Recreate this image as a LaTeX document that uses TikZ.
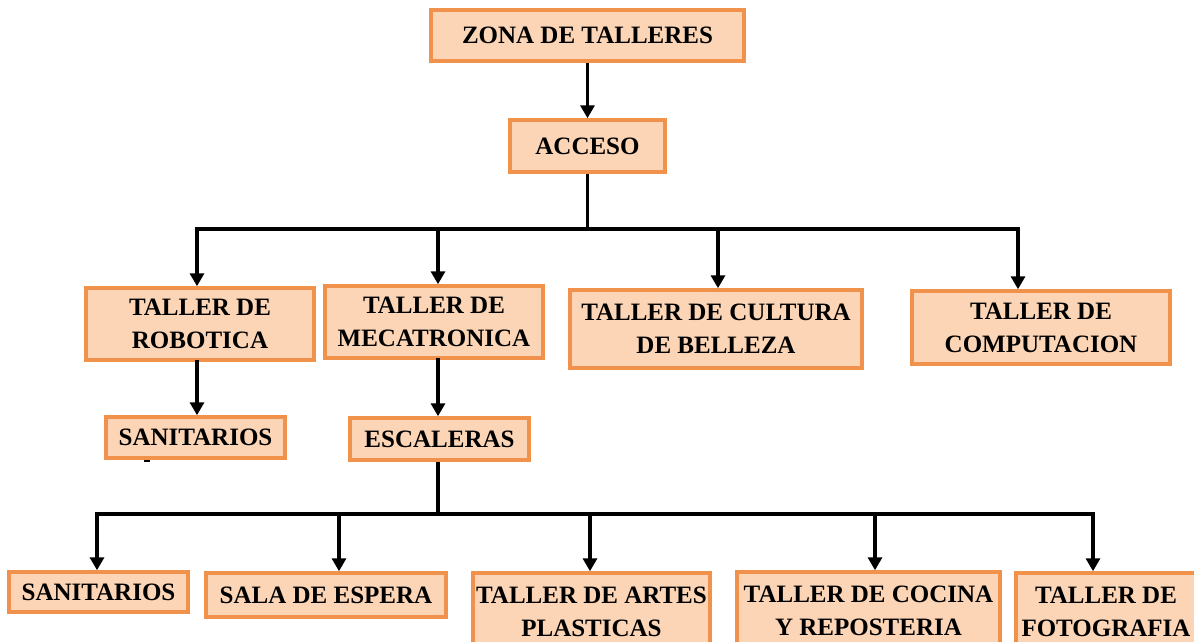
\documentclass[tikz,border=0pt]{standalone}
\usepackage{fontspec}
\setmainfont{Liberation Serif}
\usetikzlibrary{arrows.meta}
\definecolor{boxfill}{HTML}{FBD5B5}
\definecolor{boxline}{HTML}{F0924C}
\tikzset{
  box/.style={draw=boxline, line width=3.5pt, fill=boxfill, inner sep=0pt, align=center,
    font=\fontsize{25}{33}\selectfont\bfseries},
  conn/.style={line width=3.5pt, draw=black},
  arr/.style={conn, -{Triangle[width=14pt,length=13pt]}},
}
\begin{document}
\begin{tikzpicture}[x=1pt,y=-1pt]
\useasboundingbox (0,0) rectangle (1194,642);
\node[box, minimum width=313pt, minimum height=51pt] (zona) at (587.5,35.5) {ZONA DE TALLERES};
\node[box, minimum width=155pt, minimum height=52pt] (acceso) at (587.5,146) {ACCESO};
\node[box, minimum width=228pt, minimum height=72pt] (robotica) at (200,324) {TALLER DE\\ROBOTICA};
\node[box, minimum width=218pt, minimum height=72pt] (meca) at (434,322) {TALLER DE\\MECATRONICA};
\node[box, minimum width=292pt, minimum height=78pt] (cultura) at (716,329) {TALLER DE CULTURA\\DE BELLEZA};
\node[box, minimum width=258pt, minimum height=73pt] (compu) at (1041,327.5) {TALLER DE\\COMPUTACION};
\node[box, minimum width=179pt, minimum height=41pt] (san1) at (195.5,437.5) {SANITARIOS};
\node[box, minimum width=179pt, minimum height=42pt] (esca) at (439.5,439) {ESCALERAS};
\node[box, minimum width=179pt, minimum height=40pt] (san2) at (98.5,592) {SANITARIOS};
\node[box, minimum width=240pt, minimum height=44pt] (sala) at (326,595) {SALA DE ESPERA};
\node[box, minimum width=237pt, minimum height=78pt] (artes) at (591.5,612) {TALLER DE ARTES\\PLASTICAS};
\node[box, minimum width=263pt, minimum height=78pt] (cocina) at (868.5,611) {TALLER DE COCINA\\Y REPOSTERIA};
\node[box, minimum width=180pt, minimum height=78pt] (foto) at (1106,612) {TALLER DE\\FOTOGRAFIA};
\fill (144,459.5) rectangle (150,462);

\draw[arr] (zona.south) -- (acceso.north);
\coordinate (b1) at (587.5,229);
\coordinate (b1l) at (197,229);
\coordinate (b1m) at (438,229);
\coordinate (b1c) at (718,229);
\coordinate (b1r) at (1018,229);
\draw[conn] (acceso.south) -- (b1);
\draw[conn, line cap=rect] (b1l) -- (b1r);
\draw[arr] (b1l) -- (b1l |- robotica.north);
\draw[arr] (b1m) -- (b1m |- meca.north);
\draw[arr] (b1c) -- (b1c |- cultura.north);
\draw[arr] (b1r) -- (b1r |- compu.north);

\coordinate (r1) at (197,360);
\draw[arr] (r1) -- (r1 |- san1.north);
\coordinate (m1) at (438,358);
\draw[arr] (m1) -- (m1 |- esca.north);

\coordinate (b2) at (438,514);
\coordinate (b2a) at (97,514);
\coordinate (b2b) at (339,514);
\coordinate (b2c) at (590,514);
\coordinate (b2d) at (875,514);
\coordinate (b2e) at (1093,514);
\draw[conn] (b2 |- esca.south) -- (b2);
\draw[conn, line cap=rect] (b2a) -- (b2e);
\draw[arr] (b2a) -- (b2a |- san2.north);
\draw[arr] (b2b) -- (b2b |- sala.north);
\draw[arr] (b2c) -- (b2c |- artes.north);
\draw[arr] (b2d) -- (b2d |- cocina.north);
\draw[arr] (b2e) -- (b2e |- foto.north);
\end{tikzpicture}
\end{document}
